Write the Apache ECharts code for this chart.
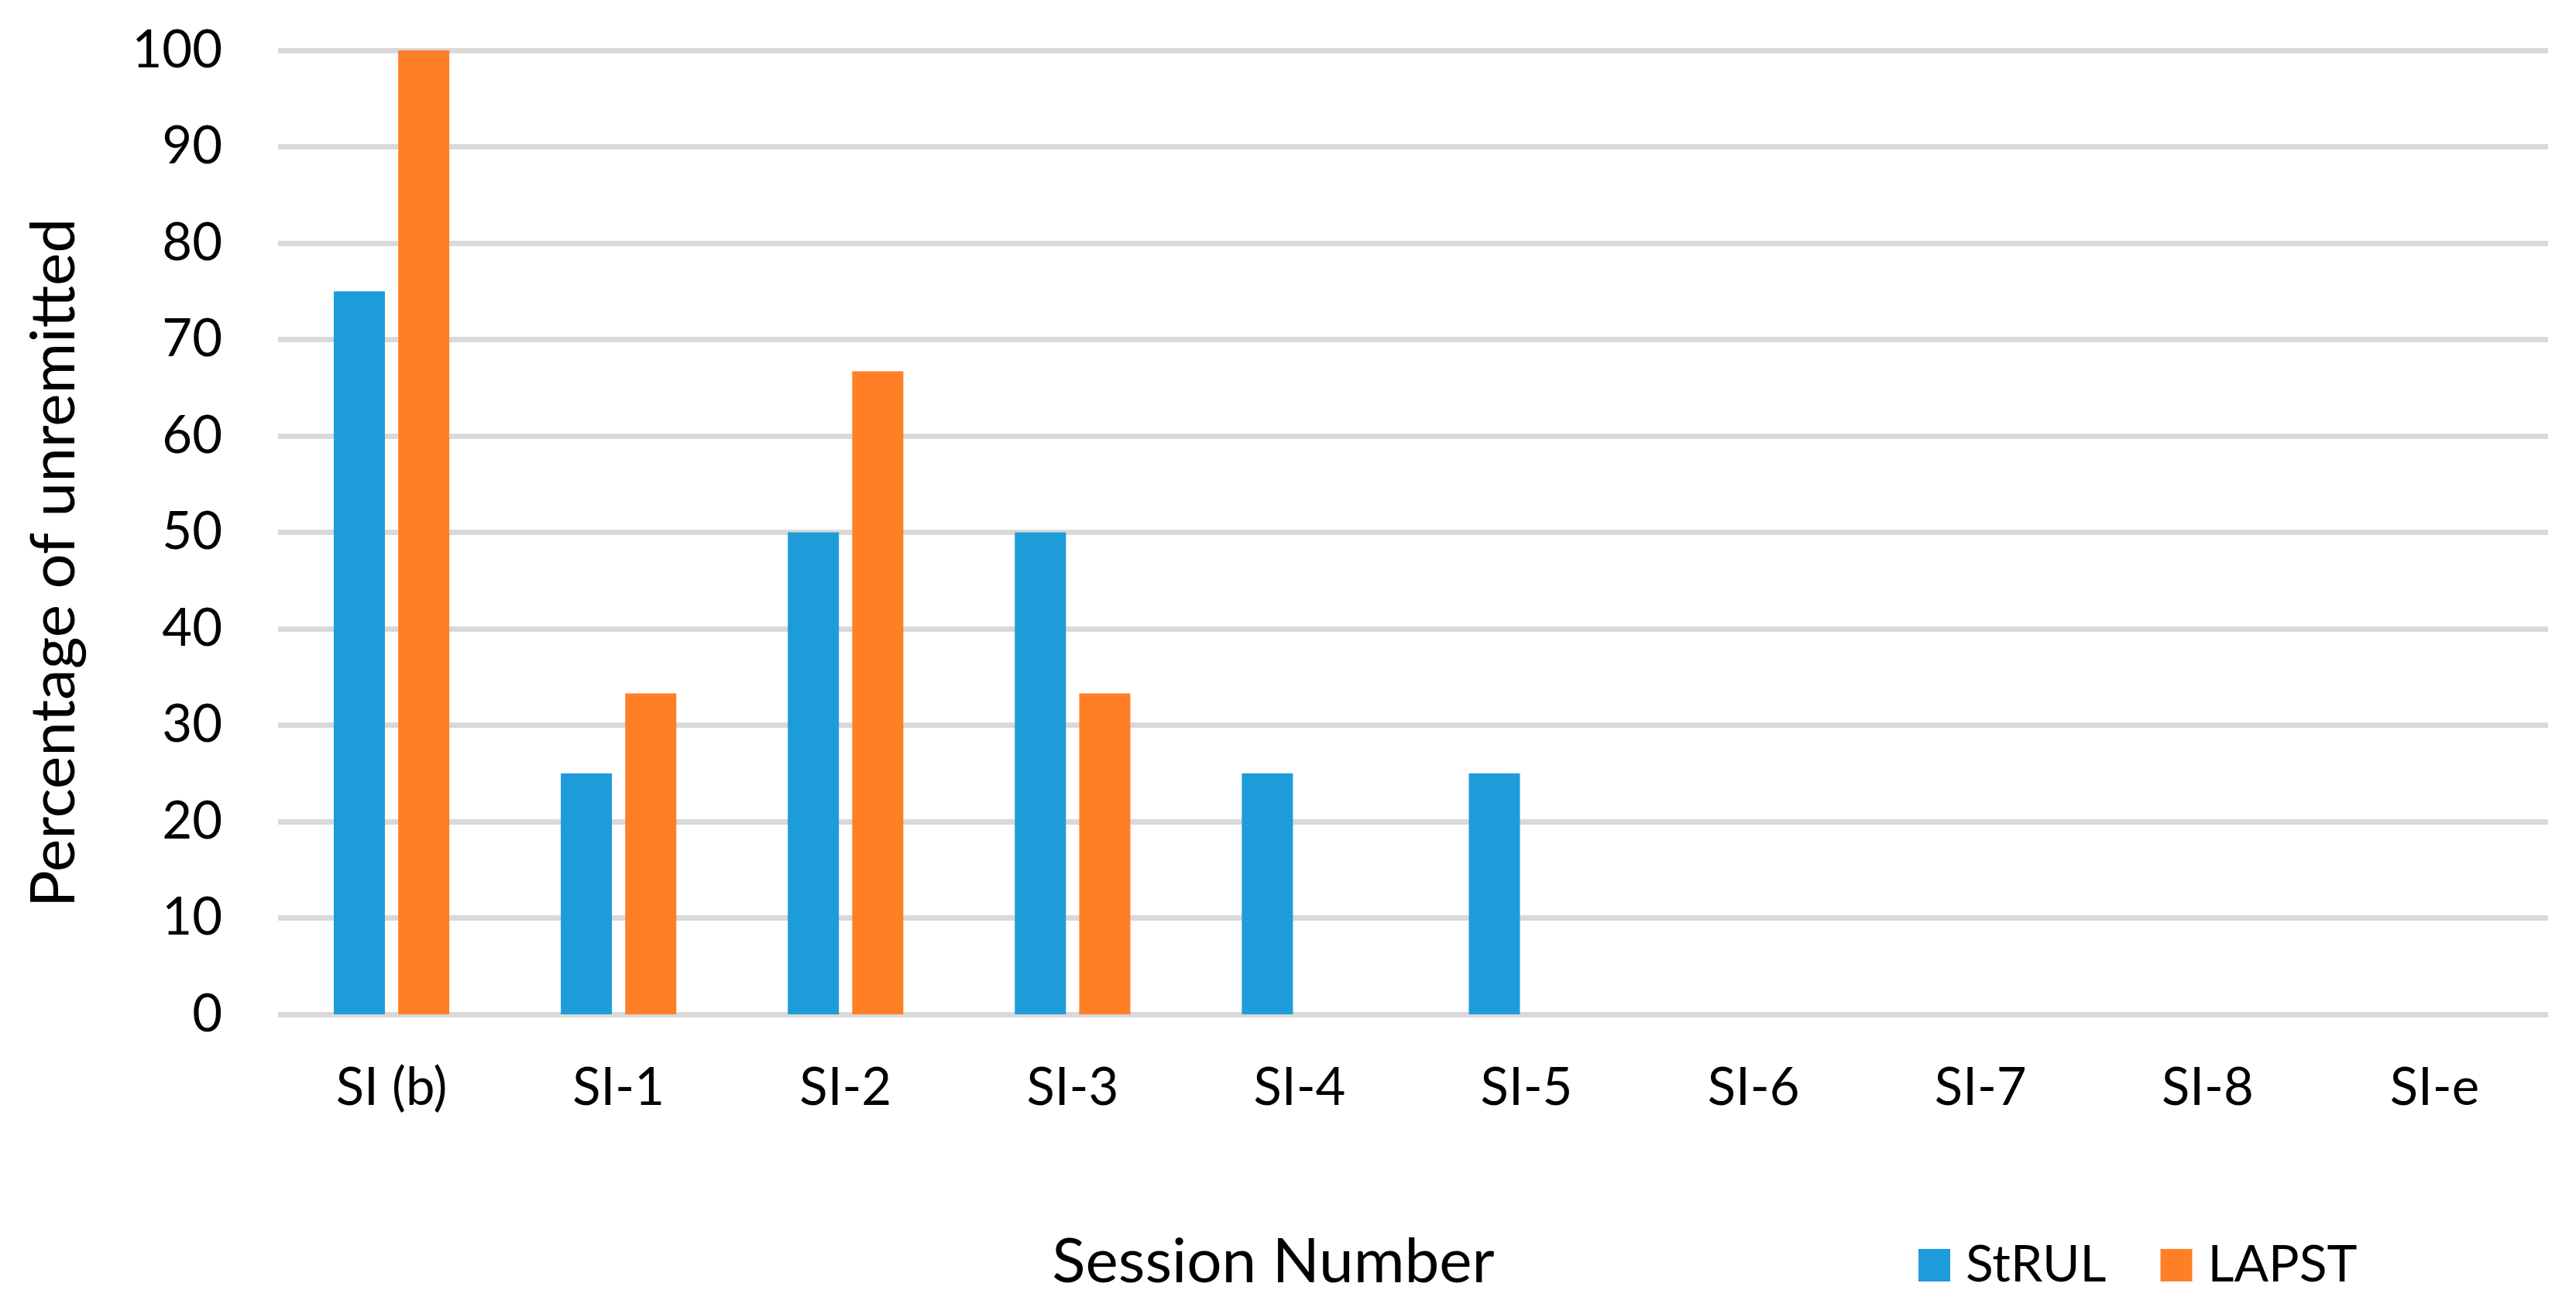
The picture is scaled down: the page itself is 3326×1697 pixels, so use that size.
<!DOCTYPE html>
<html>
<head>
<meta charset="utf-8">
<script src="https://cdn.jsdelivr.net/npm/echarts@6/dist/echarts.min.js"></script>
<style>
html,body{margin:0;padding:0;background:#fff;}
#chart{width:3326px;height:1697px;}
</style>
</head>
<body>
<div id="chart"></div>
<script>
const categories = ['SI (b)', 'SI-1', 'SI-2', 'SI-3', 'SI-4', 'SI-5', 'SI-6', 'SI-7', 'SI-8', 'SI-e'];
const strulValues = [75, 25, 50, 50, 25, 25, 0, 0, 0, 0];
const lapstValues = [100, 33.3, 66.7, 33.3, 0, 0, 0, 0, 0, 0];
const seriesNames = ['StRUL', 'LAPST'];
const yTicks = { min: 0, max: 100, interval: 10 };
const xTitle = 'Session Number';
const yTitle = 'Percentage of unremitted';

const FONT = 'Lato';
const chart = echarts.init(document.getElementById('chart'), null, { renderer: 'canvas' });
chart.setOption({
  backgroundColor: '#ffffff',
  animation: false,
  textStyle: { fontFamily: FONT },
  grid: { left: 359, right: 36, top: 65, bottom: 387, containLabel: false },
  legend: {
    data: seriesNames,
    left: 2477, top: 1601, padding: 0,
    icon: 'rect', itemWidth: 41, itemHeight: 42, itemGap: 70,
    textStyle: { fontFamily: FONT, fontSize: 66, color: '#000', padding: [0, 0, 0, 15] }
  },
  xAxis: {
    type: 'category',
    data: categories,
    axisLine: { show: false },
    axisTick: { show: false },
    axisLabel: { fontFamily: FONT, fontSize: 67, color: '#000', margin: 62, interval: 0 }
  },
  yAxis: {
    type: 'value',
    min: yTicks.min, max: yTicks.max, interval: yTicks.interval,
    axisLine: { show: false },
    axisTick: { show: false },
    axisLabel: { fontFamily: FONT, fontSize: 67, color: '#000', margin: 72 },
    splitLine: { show: true, lineStyle: { color: '#d9d9d9', width: 7 } }
  },
  graphic: [
    { type: 'text', x: 1644, y: 1630, style: { text: xTitle, font: '80px ' + FONT, fill: '#000', align: 'center', verticalAlign: 'middle' } },
    { type: 'text', x: 70, y: 727, rotation: Math.PI / 2, style: { text: yTitle, font: '80px ' + FONT, fill: '#000', align: 'center', verticalAlign: 'middle' } }
  ],
  series: [
    { name: seriesNames[0], type: 'bar', data: strulValues, barWidth: 66, barGap: '26%', itemStyle: { color: '#1e9cd9' }, z: 3 },
    { name: seriesNames[1], type: 'bar', data: lapstValues, barWidth: 66, barGap: '26%', itemStyle: { color: '#ff7f27' }, z: 3 }
  ]
});
</script>
</body>
</html>
